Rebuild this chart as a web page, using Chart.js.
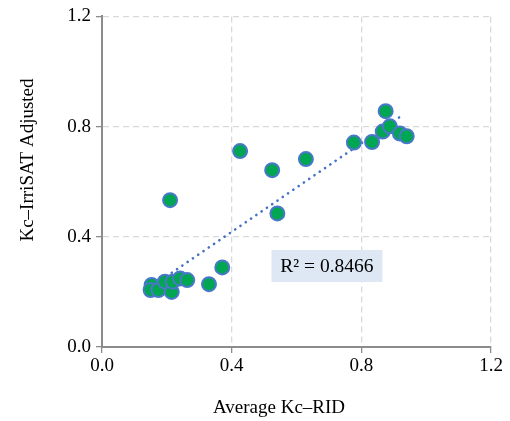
<!DOCTYPE html>
<html>
<head>
<meta charset="utf-8">
<script src="https://cdn.jsdelivr.net/npm/chart.js@4.4.1/dist/chart.umd.min.js"></script>
<style>
html,body{margin:0;padding:0;background:#fff;}
#wrap{width:510px;height:421px;position:relative;}
</style>
</head>
<body>
<div id="wrap"><canvas id="c" width="510" height="421"></canvas></div>
<script>
// Data
const kcRID = [0.153, 0.150, 0.174, 0.194, 0.215, 0.218, 0.241, 0.263, 0.330, 0.371,
               0.210, 0.426, 0.525, 0.541, 0.629, 0.777, 0.833, 0.875, 0.866, 0.888, 0.919, 0.940];
const kcIrriSAT = [0.225, 0.207, 0.207, 0.237, 0.200, 0.237, 0.249, 0.243, 0.228, 0.289,
                   0.533, 0.711, 0.642, 0.485, 0.682, 0.742, 0.744, 0.856, 0.782, 0.801, 0.775, 0.765];
const trendX = [0.15, 0.92];
const trendY = [0.217, 0.836];
const r2Label = 'R² = 0.8466';
const r2Pos = [0.694, 0.294];
const axisTicks = [0.0, 0.4, 0.8, 1.2];
const xTitle = 'Average Kc–RID';
const yTitle = 'Kc–IrriSAT Adjusted';

const points = kcRID.map((x, i) => ({x: x, y: kcIrriSAT[i]}));
const trend = trendX.map((x, i) => ({x: x, y: trendY[i]}));

const FONT = "'Liberation Serif', 'Times New Roman', serif";

const r2Plugin = {
  id: 'r2box',
  afterDatasetsDraw(chart) {
    const ctx = chart.ctx;
    const xs = chart.scales.x, ys = chart.scales.y;
    const cx = xs.getPixelForValue(r2Pos[0]);
    const cy = ys.getPixelForValue(r2Pos[1]);
    ctx.save();
    ctx.font = '19.5px ' + FONT;
    const w = 111, h = 32;
    ctx.fillStyle = '#dde8f4';
    ctx.fillRect(cx - w / 2, cy - h / 2, w, h);
    ctx.fillStyle = '#000';
    ctx.textAlign = 'center';
    ctx.textBaseline = 'middle';
    ctx.fillText(r2Label, cx, cy + 1);
    ctx.restore();
  }
};

const titlePlugin = {
  id: 'axisTitles',
  afterDraw(chart) {
    const ctx = chart.ctx;
    ctx.save();
    ctx.font = '19px ' + FONT;
    ctx.fillStyle = '#000';
    ctx.textAlign = 'center';
    ctx.textBaseline = 'middle';
    ctx.fillText(xTitle, 279, 408);
    ctx.translate(28, 160);
    ctx.rotate(-Math.PI / 2);
    ctx.fillText(yTitle, 0, 0);
    ctx.restore();
  }
};

new Chart(document.getElementById('c'), {
  type: 'scatter',
  data: {
    datasets: [
      {
        label: 'Trend',
        data: trend,
        showLine: true,
        borderColor: '#4472c4',
        borderWidth: 2.6,
        borderDash: [0.1, 6.3],
        borderCapStyle: 'round',
        pointRadius: 0,
        fill: false,
        order: 2
      },
      {
        label: 'Kc',
        data: points,
        backgroundColor: '#00a651',
        borderColor: '#4a78c8',
        borderWidth: 2,
        pointRadius: 7,
        order: 1
      }
    ]
  },
  options: {
    responsive: false,
    animation: false,
    layout: {padding: {top: 16, right: 19, left: 0, bottom: 0}},
    plugins: {legend: {display: false}, tooltip: {enabled: false}},
    scales: {
      x: {
        type: 'linear',
        min: 0, max: 1.2,
        afterBuildTicks(s) { s.ticks = axisTicks.map(v => ({value: v})); },
        afterFit(s) { s.height = 421 - 347; },
        ticks: {
          color: '#000',
          font: {family: FONT, size: 19},
          padding: 2,
          callback: v => Number(v).toFixed(1)
        },
        grid: {
          color: '#d9d9d9',
          lineWidth: 1.3,
          tickLength: 6,
          tickColor: '#8c8c8c',
          tickBorderDash: [],
          drawTicks: true
        },
        border: {display: true, color: '#8c8c8c', width: 2, dash: [6, 4]}
      },
      y: {
        type: 'linear',
        min: 0, max: 1.2,
        afterBuildTicks(s) { s.ticks = axisTicks.map(v => ({value: v})); },
        afterFit(s) { s.width = 102; },
        ticks: {
          color: '#000',
          font: {family: FONT, size: 19},
          padding: 5,
          callback: v => Number(v).toFixed(1)
        },
        grid: {
          color: '#d9d9d9',
          lineWidth: 1.3,
          tickLength: 6,
          tickColor: '#8c8c8c',
          tickBorderDash: [],
          drawTicks: true
        },
        border: {display: true, color: '#8c8c8c', width: 2, dash: [6, 4]}
      }
    }
  },
  plugins: [r2Plugin, titlePlugin]
});
</script>
</body>
</html>
